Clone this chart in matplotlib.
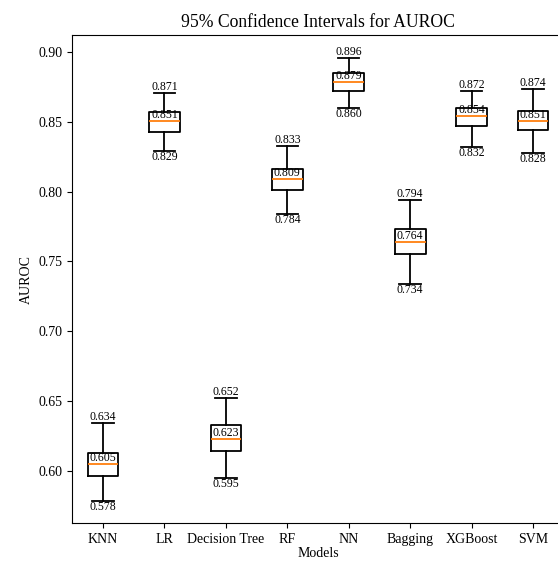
import matplotlib
matplotlib.use('Agg')
import matplotlib.pyplot as plt

plt.rcParams['font.family'] = ['Liberation Serif', 'DejaVu Serif']

# model names and the CI numbers
models = ['KNN', 'LR', 'Decision Tree', 'RF', 'NN', 'Bagging', 'XGBoost', 'SVM']
lower = [0.578, 0.829, 0.595, 0.784, 0.860, 0.734, 0.832, 0.828]
upper = [0.634, 0.871, 0.652, 0.833, 0.896, 0.794, 0.872, 0.874]
median = [0.605, 0.851, 0.623, 0.809, 0.879, 0.764, 0.854, 0.851]
q1 = [0.596, 0.843, 0.614, 0.801, 0.872, 0.755, 0.847, 0.844]
q3 = [0.613, 0.857, 0.633, 0.816, 0.885, 0.773, 0.860, 0.858]

# build the stats that bxp needs
stats = []
for i in range(len(models)):
    stats.append({'label': models[i], 'med': median[i], 'q1': q1[i], 'q3': q3[i],
                  'whislo': lower[i], 'whishi': upper[i], 'fliers': []})

fig = plt.figure(figsize=(5.58, 5.62), dpi=100)
ax = fig.add_axes([0.1296, 0.0689, 0.8807, 0.8689])

ax.bxp(stats, widths=0.5, capwidths=0.35, showfliers=False,
       medianprops={'color': '#ff7f0e', 'linewidth': 1.3},
       boxprops={'linewidth': 1.3}, whiskerprops={'linewidth': 1.3},
       capprops={'linewidth': 1.3})

# numbers on the whiskers and medians
for i in range(len(models)):
    x = i + 1
    ax.text(x, upper[i], f'{upper[i]:.3f}', ha='center', va='bottom', fontsize=8.5)
    ax.text(x, median[i], f'{median[i]:.3f}', ha='center', va='bottom', fontsize=8.5)
    ax.text(x, lower[i], f'{lower[i]:.3f}', ha='center', va='top', fontsize=8.5)

ax.set_xlim(0.5, 8.5)
ax.set_ylim(0.5623, 0.9124)
ax.set_title('95% Confidence Intervals for AUROC', fontsize=12.7)
ax.set_xlabel('Models', fontsize=10, labelpad=1)
ax.set_ylabel('AUROC', fontsize=10)
ax.tick_params(labelsize=10)

plt.savefig('out.png', dpi=100)
